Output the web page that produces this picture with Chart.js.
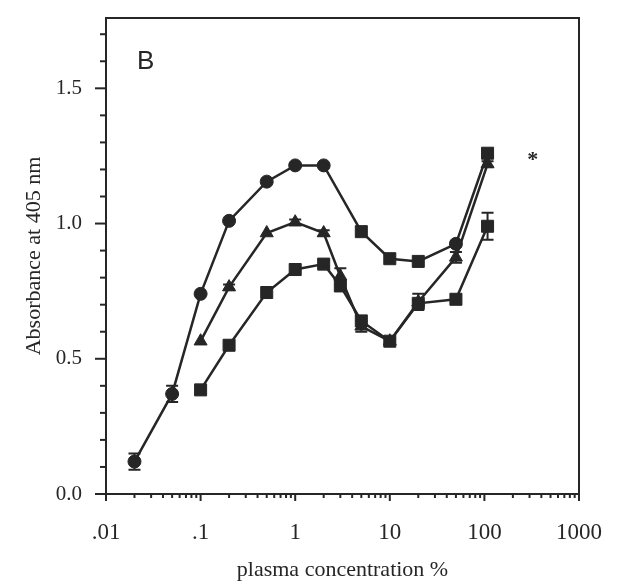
<!DOCTYPE html>
<html>
<head>
<meta charset="utf-8">
<script src="https://cdn.jsdelivr.net/npm/chart.js@4"></script>
<style>
  html, body { margin: 0; padding: 0; background: #fff; }
  #wrap { width: 624px; height: 587px; }
</style>
</head>
<body>
<div id="wrap"><canvas id="myChart" width="624" height="587"></canvas></div>
<script>
// plasma concentration % (x) for each series
const circleX = [0.02, 0.05, 0.1, 0.2, 0.5, 1, 2, 5, 10, 20, 50, 108];
const circleY = [0.12, 0.37, 0.74, 1.01, 1.155, 1.215, 1.215, 0.97, 0.87, 0.86, 0.925, 1.26];
const circleErr = [0.03, 0.03, 0, 0, 0, 0, 0, 0, 0, 0, 0.01, 0.01];
const circleStyle = ['circle', 'circle', 'circle', 'circle', 'circle', 'circle', 'circle', 'rect', 'rect', 'rect', 'circle', 'rect'];

const triangleX = [0.1, 0.2, 0.5, 1, 2, 3, 5, 10, 20, 50, 108];
const triangleY = [0.565, 0.765, 0.965, 1.005, 0.965, 0.805, 0.62, 0.565, 0.71, 0.875, 1.22];
const triangleErr = [0, 0.01, 0, 0.01, 0.01, 0.03, 0.02, 0.01, 0.03, 0.02, 0.01];

const squareX = [0.1, 0.2, 0.5, 1, 2, 3, 5, 10, 20, 50, 108];
const squareY = [0.385, 0.55, 0.745, 0.83, 0.85, 0.77, 0.64, 0.565, 0.705, 0.72, 0.99];
const squareErr = [0, 0, 0, 0, 0.01, 0.02, 0, 0, 0.01, 0, 0.05];

// significance mark
const starX = 325;
const starY = 1.25;

const xTickLabels = { 0.01: '.01', 0.1: '.1', 1: '1', 10: '10', 100: '100', 1000: '1000' };
const yTickLabels = ['0.0', '0.5', '1.0', '1.5'];

const ink = '#262626';
const serif = '"Liberation Serif", "Times New Roman", serif';

const toPoints = (xs, ys) => xs.map((x, i) => ({ x: x, y: ys[i] }));

const xTickValues = [];
for (let e = -2; e <= 2; e++) {
    for (let m = 1; m <= 9; m++) {
        xTickValues.push(Number((m * Math.pow(10, e)).toPrecision(3)));
    }
}
xTickValues.push(1000);

const noPad = (scale) => {
    scale.paddingTop = 0;
    scale.paddingBottom = 0;
    scale.paddingLeft = 0;
    scale.paddingRight = 0;
};

// tick marks, frame, error bars and labels
const decor = {
    id: 'decor',
    afterDatasetsDraw(chart) {
        const ctx = chart.ctx;
        const area = chart.chartArea;
        const xs = chart.scales.x;
        const ys = chart.scales.y;
        ctx.save();
        ctx.strokeStyle = ink;
        ctx.fillStyle = ink;

        // error bars
        ctx.lineWidth = 2;
        chart.data.datasets.forEach((ds) => {
            if (!ds.err) return;
            ds.data.forEach((p, i) => {
                const e = ds.err[i];
                if (!e) return;
                const px = xs.getPixelForValue(p.x);
                const top = ys.getPixelForValue(p.y + e);
                const bot = ys.getPixelForValue(p.y - e);
                ctx.beginPath();
                ctx.moveTo(px, top); ctx.lineTo(px, bot);
                ctx.moveTo(px - 6, top); ctx.lineTo(px + 6, top);
                ctx.moveTo(px - 6, bot); ctx.lineTo(px + 6, bot);
                ctx.stroke();
            });
        });

        // frame
        ctx.lineWidth = 2;
        ctx.strokeRect(area.left, area.top, area.right - area.left, area.bottom - area.top);

        // y ticks
        for (let k = 0; k <= 17; k++) {
            const py = ys.getPixelForValue(k / 10);
            const len = k % 5 === 0 ? 11 : 6;
            ctx.beginPath();
            ctx.moveTo(area.left - len, py);
            ctx.lineTo(area.left + (k === 0 ? 3 : 0), py);
            ctx.stroke();
        }
        // x ticks
        xTickValues.forEach((v) => {
            const px = xs.getPixelForValue(v);
            const major = xTickLabels[v] !== undefined;
            ctx.beginPath();
            ctx.moveTo(px, area.bottom);
            ctx.lineTo(px, area.bottom + (major ? 7 : 4));
            ctx.stroke();
        });

        // star and panel letter
        ctx.font = 'bold 22px ' + serif;
        ctx.textAlign = 'center';
        ctx.textBaseline = 'middle';
        ctx.fillText('*', xs.getPixelForValue(starX), ys.getPixelForValue(starY) + 4);
        ctx.font = '26px "Liberation Sans", Arial, sans-serif';
        ctx.textAlign = 'left';
        ctx.fillText('B', area.left + 31, area.top + 44);
        ctx.restore();
    }
};

const makeSet = (label, xs, ys, err, style, radius) => ({
    label: label,
    data: toPoints(xs, ys),
    err: err,
    borderColor: ink,
    backgroundColor: ink,
    pointBackgroundColor: ink,
    pointBorderColor: ink,
    borderWidth: 2.5,
    pointStyle: style,
    pointRadius: radius,
    pointBorderWidth: 1,
    tension: 0
});

const initChart = () => {
    const ctx = document.getElementById('myChart');
    new Chart(ctx, {
        type: 'line',
        plugins: [decor],
        data: {
            datasets: [
                makeSet('circle', circleX, circleY, circleErr, circleStyle,
                    circleStyle.map((s) => s === 'rect' ? 8.5 : 6.5)),
                makeSet('triangle', triangleX, triangleY, triangleErr, 'triangle', 7.5),
                makeSet('square', squareX, squareY, squareErr, 'rect', 8.5)
            ]
        },
        options: {
            responsive: false,
            animation: false,
            layout: { padding: { top: 18, right: 45, left: 0, bottom: 0 } },
            plugins: {
                legend: { display: false },
                tooltip: { enabled: false }
            },
            scales: {
                x: {
                    type: 'logarithmic',
                    min: 0.01,
                    max: 1000,
                    afterBuildTicks: (scale) => {
                        scale.ticks = xTickValues.map((v) => ({ value: v }));
                    },
                    afterFit: (scale) => { scale.height = 93; noPad(scale); },
                    border: { display: false },
                    grid: { display: false, drawTicks: false },
                    ticks: {
                        autoSkip: false,
                        maxRotation: 0,
                        padding: 25,
                        color: ink,
                        font: { family: serif, size: 23 },
                        callback: (v) => xTickLabels[v] !== undefined ? xTickLabels[v] : ''
                    },
                    title: {
                        display: true,
                        text: 'plasma concentration %',
                        color: ink,
                        font: { family: serif, size: 22 },
                        padding: { top: 2, bottom: 4 }
                    }
                },
                y: {
                    min: 0,
                    max: 1.76,
                    afterBuildTicks: (scale) => {
                        scale.ticks = yTickLabels.map((t) => ({ value: Number(t) }));
                    },
                    afterFit: (scale) => { scale.width = 106; noPad(scale); },
                    border: { display: false },
                    grid: { display: false, drawTicks: false },
                    ticks: {
                        padding: 24,
                        color: ink,
                        font: { family: serif, size: 21 },
                        callback: (v) => v.toFixed(1)
                    },
                    title: {
                        display: true,
                        text: 'Absorbance at 405 nm',
                        color: ink,
                        font: { family: serif, size: 22 },
                        padding: { top: 21, bottom: 0 }
                    }
                }
            }
        }
    });
};

initChart();
</script>
</body>
</html>
